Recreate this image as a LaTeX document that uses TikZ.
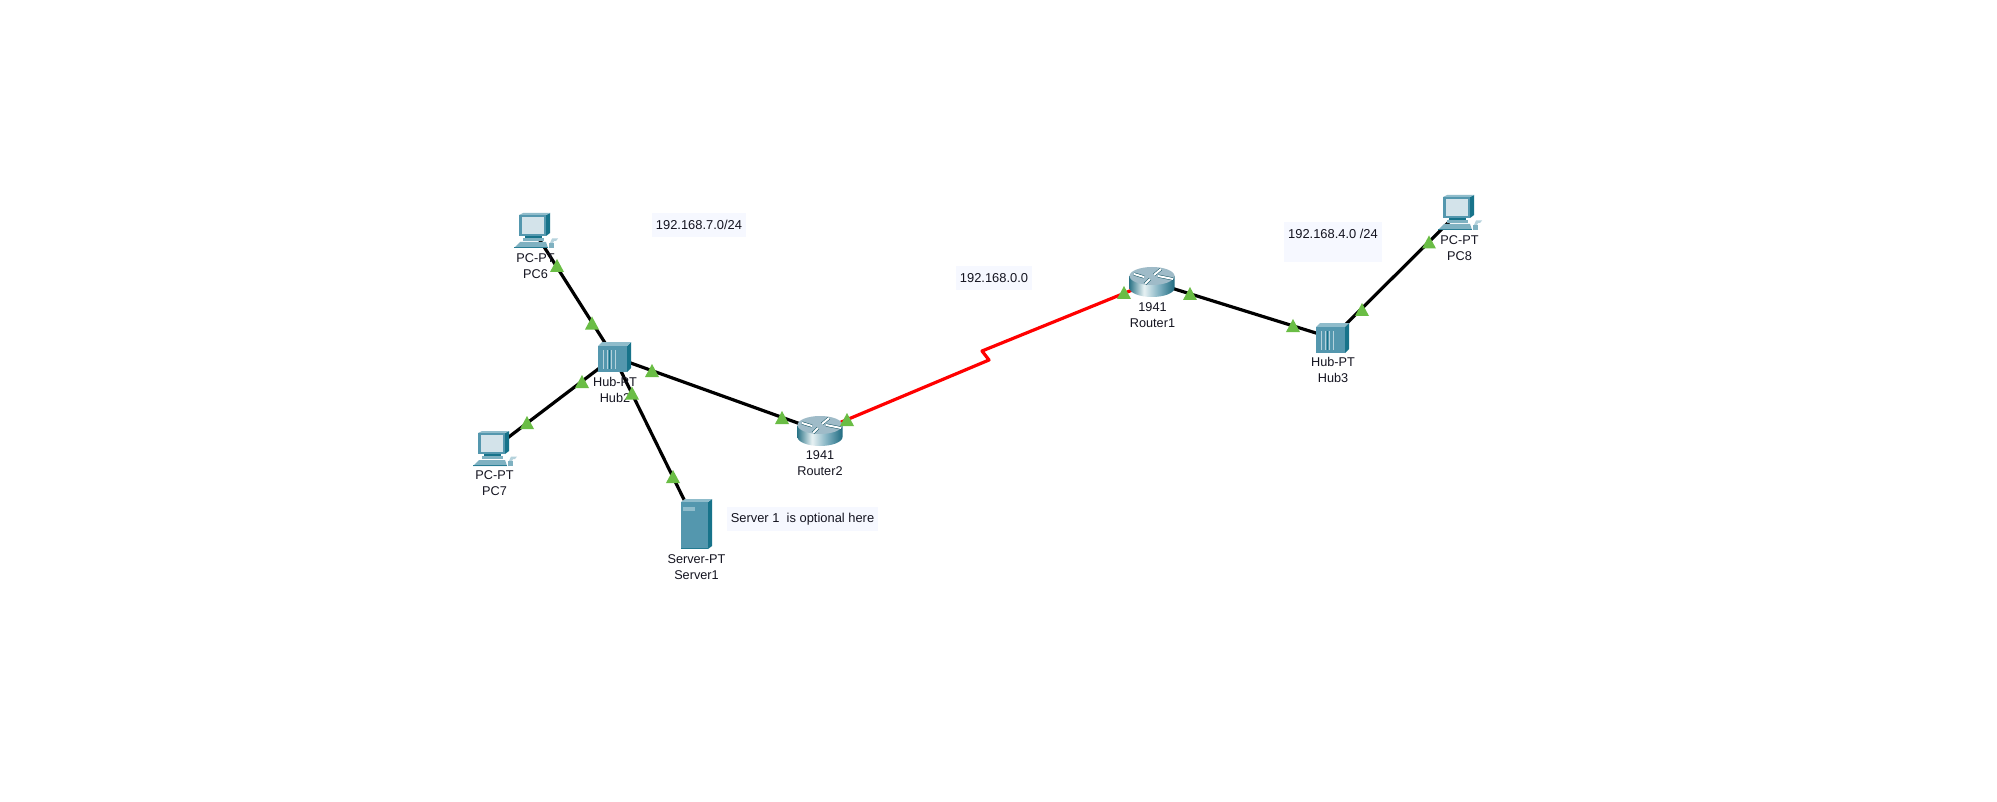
\documentclass[tikz,border=0pt]{standalone}
\usepackage{fontspec}
\setmainfont{Liberation Sans}
\definecolor{hwfront}{HTML}{5497AE}
\definecolor{hwtop}{HTML}{8FBCCB}
\definecolor{hwside}{HTML}{17738A}
\definecolor{hwscreen}{HTML}{D3E3EA}
\definecolor{hwbase}{HTML}{7FB1C1}
\definecolor{hwline}{HTML}{B5D2DC}
\definecolor{lampgreen}{HTML}{6ABD45}
\definecolor{notebg}{HTML}{F6F8FF}
\definecolor{labeltext}{HTML}{141420}
\definecolor{rtop}{HTML}{9FBBC8}
\definecolor{rleft}{HTML}{2F7689}
\definecolor{rlight}{HTML}{E8F2F4}
\definecolor{rmid}{HTML}{7FB0C0}
\definecolor{rright}{HTML}{1F6B80}
\pgfdeclarehorizontalshading{routerside}{100bp}{color(0bp)=(rleft); color(25bp)=(rleft); color(41bp)=(rlight); color(58bp)=(rmid); color(75bp)=(rright); color(100bp)=(rright)}
\tikzset{
  x=0.5pt,y=-0.5pt,
  device/.style={inner sep=0pt,minimum size=0pt},
  link/.style={line width=1.6pt,draw=black},
  seriallink/.style={line width=1.6pt,draw=red,line join=round},
  devlabel/.style={inner sep=0pt,align=center,text=labeltext,font=\fontsize{6.35}{8}\selectfont},
  notebox/.style={fill=notebg,inner sep=0pt,text=labeltext,font=\fontsize{6.45}{8}\selectfont},
  lamp/.pic={\fill[lampgreen] (0,-6.5) -- (7,6.5) -- (-7,6.5) -- cycle;},
  pcicon/.pic={
    \fill[hwside] (12,-16) -- (16,-18) -- (16,2) -- (12,5) -- cycle;
    \fill[hwtop] (-15,-16) -- (-11,-18) -- (16,-18) -- (12,-16) -- cycle;
    \fill[hwfront] (-15,-16) rectangle (12,5);
    \fill[hwscreen] (-12,-14) rectangle (10,3);
    \fill[hwside] (-9,5) rectangle (8,7);
    \fill[hwbase] (-11,7) rectangle (10,10);
    \fill[hwbase] (-14,11) -- (12,11) -- (14,17) -- (-20,17) -- cycle;
    \fill[hwside!70!hwfront] (-20,16) rectangle (14,17);
    \fill[hwline] (16,12) -- (18,7.5) -- (24,7.5) -- (22,10) -- (20,10) -- (19,12) -- cycle;
    \fill[hwbase] (15,12) rectangle (20,17);
  },
  hubicon/.pic={
    \fill[hwside] (13,-11) -- (17,-15) -- (17,11) -- (13,15) -- cycle;
    \fill[hwtop] (-16,-11) -- (-12,-15) -- (17,-15) -- (13,-11) -- cycle;
    \fill[hwfront] (-16,-11) rectangle (13,15);
    \foreach \sx in {-11,-7,-3,1}
      \draw[hwline,line width=0.5pt] (\sx,-7) -- (\sx,12);
    \draw[hwside,line width=0.4pt] (-5,-7) -- (-5,12);
  },
  routericon/.pic={
    \shade[shading=routerside]
      (-22.5,-6) -- (-22.5,6) arc[start angle=180,end angle=0,x radius=22.5,y radius=9]
      -- (22.5,-6) -- cycle;
    \fill[rtop] (0,-6) ellipse[x radius=22.5,y radius=9];
    \foreach \ax/\ay/\bx/\by in {-18/-8/-8/-5,-7/2/-2/-3,2/-7/9/-13,6/-6/21/-3}{
      \draw[hwside!70!black,line width=1.5pt] (\ax,\ay) -- (\bx,\by);
      \draw[white,line width=1pt] (\ax,\ay) -- (\bx,\by);
    }
  },
  servericon/.pic={
    \fill[hwside] (12,-22) -- (16,-25) -- (16,22) -- (12,25) -- cycle;
    \fill[hwtop] (-15,-22) -- (-11,-25) -- (16,-25) -- (12,-22) -- cycle;
    \fill[hwfront] (-15,-22) rectangle (12,25);
    \fill[hwtop] (-13,-17) rectangle (-1,-13);
    \fill[hwside!80!hwfront] (-15,24) rectangle (12,25);
  },
}
\begin{document}
\begin{tikzpicture}
\useasboundingbox (0,0) rectangle (1997,802);
\fill[white] (0,0) rectangle (1997,802);

% devices (anchors for the connectors)
\node[device] (pc6) at (534,231) {};
\node[device] (pc7) at (493,449) {};
\node[device] (pc8) at (1458,213) {};
\node[device] (hub2) at (614,357) {};
\node[device] (hub3) at (1332,338) {};
\node[device] (router2) at (820,431) {};
\node[device] (router1) at (1152,282) {};
\node[device] (server1) at (696,524) {};
\coordinate (zigA) at (989,360);
\coordinate (zigB) at (982,351);

% connectors
\draw[link] (pc6.center) -- (hub2.center);
\draw[link] (pc7.center) -- (hub2.center);
\draw[link] (server1.center) -- (hub2.center);
\draw[link] (hub2.center) -- (router2.center);
\draw[seriallink] (router2.center) -- (zigA) -- (zigB) -- (router1.center);
\draw[link] (router1.center) -- (hub3.center);
\draw[link] (hub3.center) -- (pc8.center);

% icons
\pic at (pc6) {pcicon};
\pic at (pc7) {pcicon};
\pic at (pc8) {pcicon};
\pic at (hub2) {hubicon};
\pic at (hub3) {hubicon};
\pic at (router2) {routericon};
\pic at (router1) {routericon};
\pic at (server1) {servericon};

% device labels
\node[devlabel] (lpc6) at (535.5,266) {PC-PT\\PC6};
\node[devlabel] (lpc7) at (494.5,483) {PC-PT\\PC7};
\node[devlabel] (lpc8) at (1459.5,248) {PC-PT\\PC8};
\node[devlabel] (lhub2) at (615,389.5) {Hub-PT\\Hub2};
\node[devlabel] (lhub3) at (1333,370) {Hub-PT\\Hub3};
\node[devlabel] (lrouter2) at (820,463.5) {1941\\Router2};
\node[devlabel] (lrouter1) at (1152.5,315) {1941\\Router1};
\node[devlabel] (lserver1) at (696.5,567) {Server-PT\\Server1};

% notes
\node[notebox,minimum width=47pt,minimum height=12pt] (n7) at (699,225) {192.168.7.0/24};
\node[notebox,minimum width=38pt,minimum height=12pt] (n0) at (994,278) {192.168.0.0};
\node[notebox,minimum width=49pt,minimum height=20pt] (n4box) at (1333,242) {};
\node[notebox] (n4) at (1333,234) {192.168.4.0 /24};
\node[notebox,minimum width=75.5pt,minimum height=12pt] (nserver) at (802.5,519) {Server 1\ \ is optional here};

% link lights
\pic at (557,265.5) {lamp};
\pic at (592,323) {lamp};
\pic at (582,381.5) {lamp};
\pic at (527,422.5) {lamp};
\pic at (632,393) {lamp};
\pic at (673,476.5) {lamp};
\pic at (652,370.5) {lamp};
\pic at (782,417.5) {lamp};
\pic at (847,419.5) {lamp};
\pic at (1124,292.5) {lamp};
\pic at (1190,293.5) {lamp};
\pic at (1293,325.5) {lamp};
\pic at (1362,309.5) {lamp};
\pic at (1429,242) {lamp};
\end{tikzpicture}
\end{document}
